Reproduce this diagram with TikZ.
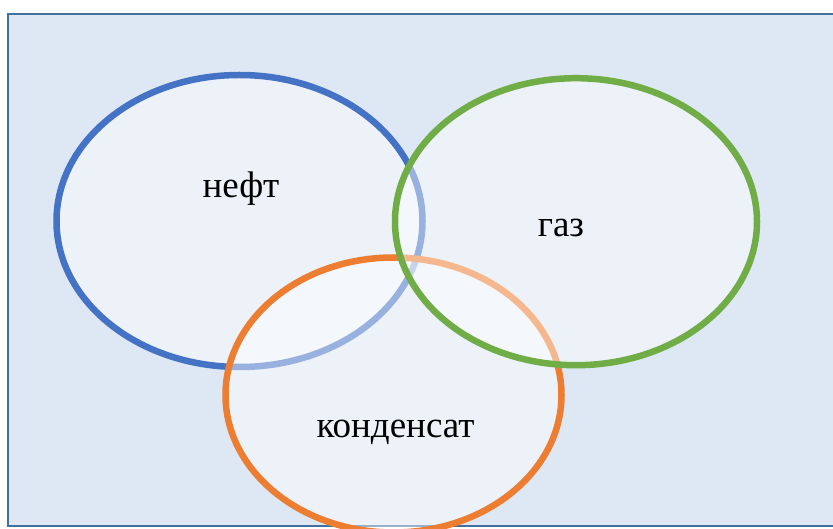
\documentclass[tikz,border=0pt]{standalone}
\usepackage{fontspec}
\setmainfont{Liberation Serif}
\usetikzlibrary{positioning,shapes.geometric}
\definecolor{oil}{HTML}{4472C4}
\definecolor{gas}{HTML}{70AD47}
\definecolor{cond}{HTML}{ED7D31}
\definecolor{back}{HTML}{DEE8F4}
\definecolor{frame}{HTML}{41719C}

\begin{document}
\begin{tikzpicture}[x=1pt,y=-1pt,
  set/.style={ellipse,draw=#1,line width=6.5pt,fill=white,fill opacity=0.45,inner sep=0pt},
  lab/.style={anchor=base,font=\fontsize{37}{44}\selectfont}]
\useasboundingbox (0,0) rectangle (833,529);
\clip (0,0) rectangle (833,529);
\fill[back,draw=frame,line width=2pt] (7.5,14) rectangle (850,525.5);
\node[set=oil,minimum width=366pt,minimum height=292pt] (oil) at (239.5,221) {};
\node[set=cond,minimum width=336pt,minimum height=275pt] (cond) at (393.5,395) {};
\node[set=gas,minimum width=362pt,minimum height=287pt] (gas) at (576,221.7) {};
\node[lab] (toil) at (241,198) {нефт};
\node[lab] (tgas) at (561,236.5) {газ};
\node[lab] (tcond) at (395.5,437.5) {конденсат};
\end{tikzpicture}
\end{document}
